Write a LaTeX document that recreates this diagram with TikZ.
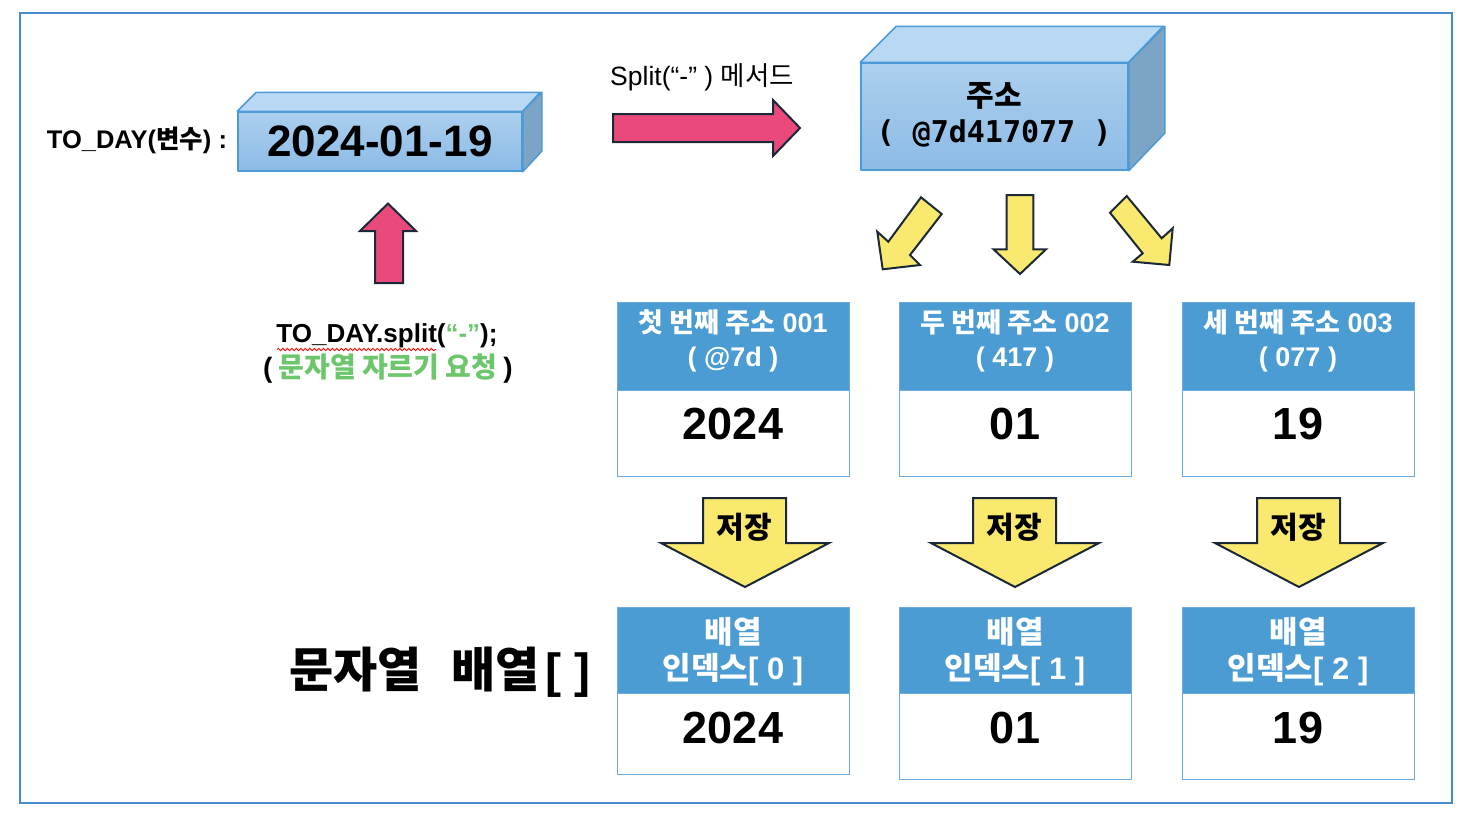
\documentclass[tikz,border=0pt]{standalone}
\usepackage{fontspec}
\setmainfont{Liberation Sans}
\newfontfamily\ko{Noto Sans CJK KR}
\newfontfamily\monofont{DejaVu Sans Mono}
\usetikzlibrary{decorations.pathmorphing}
\definecolor{frameblue}{RGB}{72,140,205}
\definecolor{hdrblue}{RGB}{74,156,210}
\definecolor{tblline}{RGB}{110,170,220}
\definecolor{ylw}{RGB}{249,233,111}
\definecolor{pnk}{RGB}{233,74,123}
\definecolor{outl}{RGB}{27,40,56}
\definecolor{grn}{RGB}{108,199,108}
\definecolor{boxtop}{RGB}{185,216,243}
\definecolor{boxfrontA}{RGB}{172,207,238}
\definecolor{boxfrontB}{RGB}{140,187,230}
\definecolor{boxside}{RGB}{124,164,198}
\definecolor{boxedge}{RGB}{76,154,214}
\newcommand\fsz[2]{\fontsize{#1}{#2}\selectfont}
\begin{document}
\begin{tikzpicture}[x=1pt,y=-1pt,
  blockarrow/.style={fill=#1,draw=outl,line width=2pt,line join=miter},
  hdr/.style={fill=hdrblue,draw=tblline,line width=1pt,inner sep=0pt,minimum width=232pt},
  bodycell/.style={fill=white,draw=tblline,line width=1pt,inner sep=0pt,minimum width=232pt},
  hdrtext/.style={text=white,font=\bfseries\fsz{27}{30},inner sep=0pt},
  bigval/.style={font=\bfseries\fsz{45}{48},inner sep=0pt},
  face/.style={draw=boxedge,line width=1.5pt,line join=round},
  plain/.style={inner sep=0pt}]
\useasboundingbox (0,0) rectangle (1462,828);
\draw[frameblue,line width=1.2pt] (20,13) rectangle (1452,803);

% ---- date box (3D) ----
\node[face,top color=boxfrontA,bottom color=boxfrontB,minimum width=284pt,minimum height=59pt,inner sep=0pt] (datebox) at (380,141.5) {\bfseries\fsz{44}{48}2024-01-19};
\filldraw[face,fill=boxtop] (datebox.north west) -- ++(19,-19) -- ++(284,0) -- (datebox.north east) -- cycle;
\filldraw[face,fill=boxside] (datebox.north east) -- ++(19,-19) -- ++(0,59) -- (datebox.south east) -- cycle;
\node[plain,font=\bfseries\fsz{25.5}{28}] (varlabel) at (137,140) {TO\_DAY({\ko\bfseries 변수}) :};

% ---- address box (3D) ----
\node[face,top color=boxfrontA,bottom color=boxfrontB,minimum width=267pt,minimum height=107pt,inner sep=0pt] (addr) at (994.5,116.5) {};
\filldraw[face,fill=boxtop] (addr.north west) -- ++(36,-36) -- ++(267,0) -- (addr.north east) -- cycle;
\filldraw[face,fill=boxside] (addr.north east) -- ++(36,-36) -- ++(0,107) -- (addr.south east) -- cycle;
\node[plain,font=\ko\bfseries\fsz{30}{34}] (addrtitle) at (994,96) {주소};
\node[plain,font=\monofont\bfseries\fsz{30}{34}] (addrval) at (994,133) {( @7d417077 )};

% ---- split method arrow ----
\node[plain,font=\fsz{26.5}{30}] (splitlabel) at (702,77) {Split(“-” ) {\ko 메서드}};
\filldraw[blockarrow=pnk] (613,114) -- (773,114) -- (773,100) -- (800,128) -- (773,156) -- (773,142) -- (613,142) -- cycle;

% ---- request arrow ----
\filldraw[blockarrow=pnk] (375,283) -- (375,231) -- (360,231) -- (388,203.5) -- (416,231) -- (403,231) -- (403,283) -- cycle;
\node[plain,font=\bfseries\fsz{26}{30}] (splitcode) at (387,336) {TO\_DAY.split(\textcolor{grn}{“-”});};
\coordinate (wavyA) at (277,349.5);
\coordinate (wavyB) at (436,349.5);
\draw[red,line width=0.8pt,decorate,decoration={snake,amplitude=1.2pt,segment length=4.5pt}] (wavyA) -- (wavyB);
\node[plain,font=\bfseries\fsz{28}{32}] (request) at (388,369) {(\hspace{6pt}{\ko\bfseries\color{grn}문자열 자르기 요청}\hspace{6pt})};

% ---- three distribution arrows ----
\filldraw[blockarrow=ylw] (941.7,214) -- (910,255) -- (920,265) -- (882.7,269.3) -- (877.3,231.7) -- (888.3,241.7) -- (921,197.3) -- cycle;
\filldraw[blockarrow=ylw] (1006.7,195) -- (1033.3,195) -- (1033.3,249.3) -- (1046,249.3) -- (1020,274) -- (993.5,249.3) -- (1006.7,249.3) -- cycle;
\filldraw[blockarrow=ylw] (1110,212.7) -- (1126.7,196) -- (1161.7,238.3) -- (1172.7,228.3) -- (1169.3,265) -- (1132.7,261.7) -- (1142.7,253.3) -- cycle;

% ---- address tables ----
\foreach \L/\nm/\ta/\tb/\tn/\val in {617/a/첫/001/@7d/2024, 899/b/두/002/417/01, 1182/c/세/003/077/19}{
  \node[hdr,minimum height=88pt] (addrhdr\nm) at (\L+116,346) {};
  \node[bodycell,minimum height=86pt] (addrbody\nm) at (\L+116,433) {};
  \node[hdrtext] (addrhdrA\nm) at (\L+116,322) {{\ko\bfseries \ta\ 번째 주소} \tb};
  \node[hdrtext] (addrhdrB\nm) at (\L+116,360) {( \tn\ )};
  \node[bigval] (addrval\nm) at (\L+116,424) {\val};
}

% ---- store arrows ----
\foreach \c/\nm in {745/a, 1015/b, 1299/c}{
  \filldraw[blockarrow=ylw] (\c-42,498) -- (\c+41,498) -- (\c+41,543) -- (\c+84,543) -- (\c,587) -- (\c-84,543) -- (\c-42,543) -- cycle;
  \node[plain,font=\ko\bfseries\fsz{30}{34}] (store\nm) at (\c-1,527) {저장};
}

% ---- array tables ----
\foreach \L/\nm/\idx/\val/\bot in {617/a/0/2024/774, 899/b/1/01/779, 1182/c/2/19/779}{
  \node[hdr,minimum height=86pt] (arrhdr\nm) at (\L+116,650) {};
  \node[bodycell,minimum height=\bot pt-693pt,anchor=north] (arrbody\nm) at (\L+116,693) {};
  \node[hdrtext,font=\ko\bfseries\fsz{31}{34}] (arrhdrA\nm) at (\L+116,632) {배열};
  \node[hdrtext,font=\bfseries\fsz{31}{34}] (arrhdrB\nm) at (\L+116,670) {{\ko\bfseries 인덱스}[ \idx\ ]};
  \node[bigval] (arrval\nm) at (\L+116,727.5) {\val};
}

\node[plain,font=\bfseries\fsz{48}{52},anchor=west] (arrlabel) at (289,672) {{\ko\bfseries 문자열\hspace{30pt}배열}\hspace{5pt}[\hspace{14pt}]};
\end{tikzpicture}
\end{document}
